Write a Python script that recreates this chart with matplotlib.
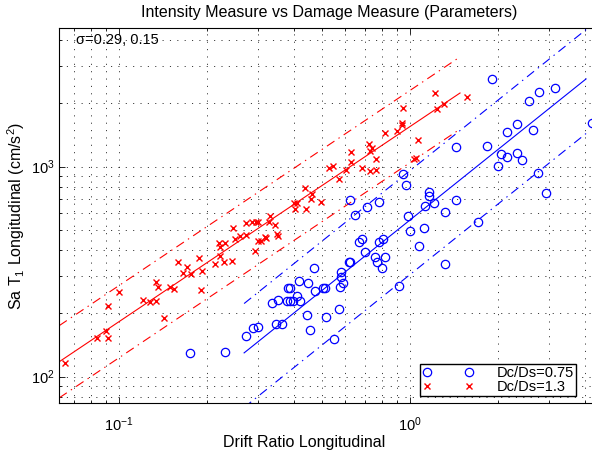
import numpy as np
import matplotlib
matplotlib.use('Agg')
import matplotlib.pyplot as plt

plt.rcParams['font.family'] = ['Liberation Sans', 'DejaVu Sans']
plt.rcParams['mathtext.default'] = 'regular'
plt.rcParams['lines.scale_dashes'] = False

# Dc/Ds = 1.3 (red crosses)
drift_13 = [0.0654, 0.0837, 0.0904, 0.0919, 0.0917, 0.100, 0.1204, 0.1281, 0.1338, 0.1337,
            0.1365, 0.1429, 0.1491, 0.1542, 0.1591, 0.1663, 0.1715, 0.1768, 0.1888, 0.1921,
            0.1916, 0.2138, 0.2210, 0.2221, 0.2215, 0.2290, 0.2313, 0.2435, 0.2470, 0.2498,
            0.2604, 0.2720, 0.2727, 0.2864, 0.2956, 0.3003, 0.2922, 0.2992, 0.3064, 0.3182,
            0.3195, 0.3304, 0.3285, 0.3430, 0.3496, 0.3518, 0.3995, 0.4081, 0.4026, 0.4357,
            0.4385, 0.4559, 0.4617, 0.4926, 0.5277, 0.5451, 0.5710, 0.6026, 0.6259, 0.6259,
            0.6865, 0.7243, 0.7429, 0.7289, 0.7265, 0.7612, 0.7640, 0.8238, 0.9045, 0.9365,
            0.9408, 0.9461, 1.068, 1.048, 1.032, 1.219, 1.241, 1.309, 1.566]
sa_13 = [115.8, 152.3, 165.4, 152.3, 217.8, 254.0, 231.9, 226.9, 230.1, 281.6,
         268.3, 191.0, 266.0, 262.2, 350.6, 310.0, 332.2, 307.3, 366.3, 319.8,
         258.8, 342.9, 432.3, 412.4, 375.7, 352.8, 433.3, 353.6, 509.0, 452.6,
         469.3, 472.9, 538.3, 547.2, 545.4, 547.2, 396.8, 443.8, 443.8, 464.2,
         455.1, 579.4, 547.2, 527.7, 476.5, 467.7, 669.4, 669.4, 626.8, 789.0,
         626.8, 699.5, 739.6, 675.2, 982.6, 1004.4, 877.7, 960.3, 1049.5, 1179,
         989.0, 1280, 1223, 1188, 956.0, 964.5, 1089, 1452, 1479, 1609,
         1585, 1910, 1336, 1103, 1088, 2251, 1878, 1982, 2154]

# Dc/Ds = 0.75 (blue circles)
drift_075 = [0.1747, 0.2310, 0.2732, 0.2875, 0.3003, 0.3449, 0.3640, 0.3360, 0.3505, 0.3770,
             0.3870, 0.3963, 0.4081, 0.4175, 0.3794, 0.3855, 0.4139, 0.4444, 0.4679, 0.4709,
             0.5035, 0.5091, 0.4416, 0.4533, 0.5125, 0.5490, 0.5702, 0.5761, 0.5876, 0.5784,
             0.5784, 0.6180, 0.6244, 0.6694, 0.6838, 0.6985, 0.7582, 0.7721, 0.7993, 0.8205,
             0.7824, 0.8095, 0.9145, 1.000, 1.076, 1.120, 0.982, 1.319, 1.717, 0.6200,
             0.6471, 0.7135, 0.7811, 0.9484, 0.9665, 1.160, 1.160, 1.126, 1.206, 1.324,
             1.443, 1.434, 1.909, 1.846, 2.012, 2.060, 2.151, 2.154, 2.326, 2.326,
             2.420, 2.556, 2.640, 2.766, 2.754, 2.929, 3.160, 4.211]
sa_075 = [129.2, 130.8, 155.9, 171.3, 172.1, 178.6, 178.6, 223.7, 230.6, 229.8,
          230.1, 229.8, 242.3, 229.8, 263.6, 263.6, 284.1, 280.4, 328.2, 255.1,
          263.6, 265.3, 195.6, 166.5, 192.4, 151.5, 209.6, 266.0, 279.4, 296.8,
          315.2, 351.7, 352.8, 437.9, 454.6, 392.4, 371.5, 351.7, 329.3, 369.5,
          439.4, 452.6, 271.3, 492.5, 417.8, 509.0, 579.4, 342.9, 542.4, 694.0,
          588.9, 642.8, 675.2, 923.0, 813.7, 757.8, 725.3, 649.9, 671.4, 610.6,
          694.0, 1245, 2607, 1255, 1010, 1153, 1468, 1108, 1591, 1158,
          1076, 2062, 1495, 2274, 930.3, 747.0, 2371, 1620]

# fitted power laws  Sa = a * drift^b, band offsets in log10 units
red_fit_range = [0.0623, 1.486]
red_a, red_b = 1552.0, 0.929
red_band_up, red_band_lo = 0.172, 0.172
blue_fit_range = [0.269, 4.03]
blue_a, blue_b = 557.0, 1.11
blue_band_up, blue_band_lo = 0.235, 0.26

fig = plt.figure(figsize=(5.92, 4.57), dpi=100)
ax = fig.add_axes([0.1002, 0.1175, 0.9133, 0.8206])
ax.set_xscale('log')
ax.set_yscale('log')

dashdot = (0, (6.5, 3.5, 1.0, 3.5))

ax.plot(drift_075, sa_075, 'o', mfc='none', mec='b', ms=6, mew=0.9, label='Dc/Ds=0.75', zorder=3)
ax.plot(drift_13, sa_13, 'x', color='r', ms=4, mew=1.0, label='Dc/Ds=1.3', zorder=3)

xr = np.array(red_fit_range)
yr = red_a * xr ** red_b
ax.plot(xr, yr, color='r', lw=0.8)
ax.plot(xr, yr * 10 ** red_band_up, color='r', lw=0.8, linestyle=dashdot)
ax.plot(xr, yr / 10 ** red_band_lo, color='r', lw=0.8, linestyle=dashdot)

xb = np.array(blue_fit_range)
yb = blue_a * xb ** blue_b
ax.plot(xb, yb, color='b', lw=0.8)
ax.plot(xb, yb * 10 ** blue_band_up, color='b', lw=0.8, linestyle=dashdot)
ax.plot(xb, yb / 10 ** blue_band_lo, color='b', lw=0.8, linestyle=dashdot)

ax.set_xlim(0.0623, 4.5)
ax.set_ylim(74.6, 4560)

ax.grid(True, which='both', linestyle=(0, (0.8, 4.5)), color='0.1', lw=0.6)
ax.set_axisbelow(True)
ax.tick_params(which='both', direction='in', top=True, right=True, width=0.6, labelsize=10.5)
ax.tick_params(which='major', length=4.5)
ax.tick_params(which='minor', length=2.2)
ax.tick_params(axis='x', which='major', pad=9)
for s in ax.spines.values():
    s.set_linewidth(0.8)

ax.set_title('Intensity Measure vs Damage Measure (Parameters)', fontsize=11.5, pad=8)
ax.set_xlabel('Drift Ratio Longitudinal', fontsize=11.5)
ax.xaxis.set_label_coords(0.4535, -0.085)
ax.set_ylabel('Sa T$_1$ Longitudinal (cm/s$^2$)', fontsize=11.5)
ax.yaxis.set_label_coords(-0.06, 0.5)

ax.text(0.03, 0.968, '\u03c3=0.29, 0.15', transform=ax.transAxes, fontsize=10.5,
        va='center', ha='left')

leg = ax.legend(loc='lower left', bbox_to_anchor=(0.668, 0.02), fontsize=10.5,
                numpoints=2, handlelength=3.5, handletextpad=1.6, labelspacing=0.0,
                borderpad=0.12, borderaxespad=0, fancybox=False, framealpha=1,
                edgecolor='k')
leg.get_frame().set_linewidth(1.0)

fig.savefig('out.png', dpi=100)
